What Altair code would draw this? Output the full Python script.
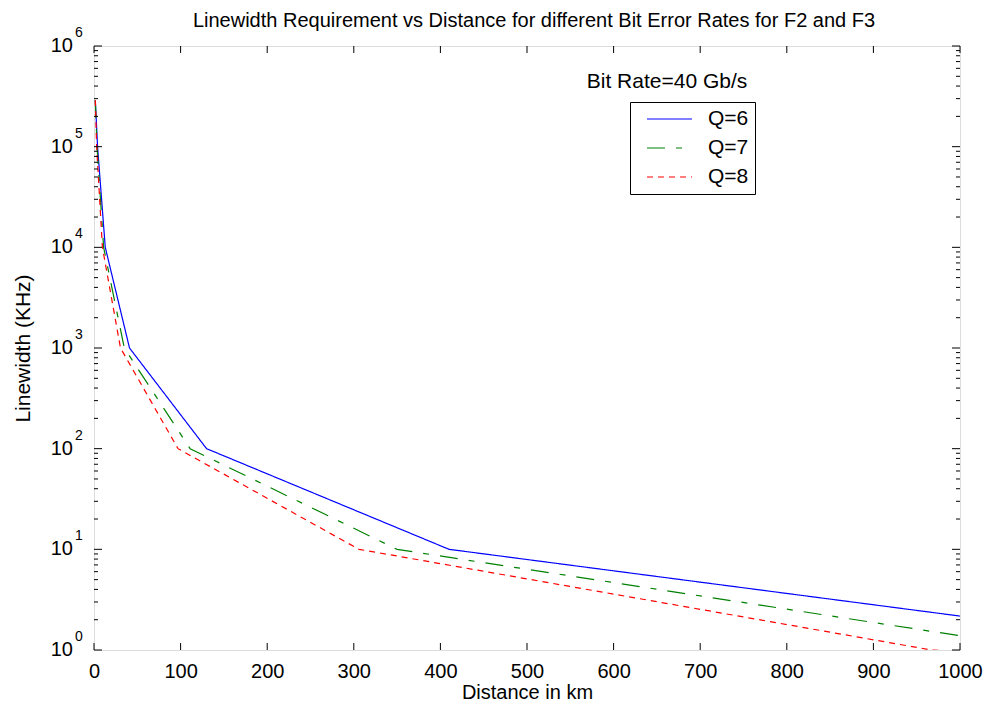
import altair as alt
import pandas as pd

# ---- data ----
q_labels = ["Q=6", "Q=7", "Q=8"]
dist_q6 = [1.5, 4.1, 13.0, 41.0, 130.0, 410.0, 1300.0]
lw_q6 = [2.9e5, 1e5, 1e4, 1e3, 1e2, 1e1, 1.0]
dist_q7 = [1.5, 3.5, 11.1, 35.0, 111.0, 350.0, 1107.0]
lw_q7 = [2.9e5, 1e5, 1e4, 1e3, 1e2, 1e1, 1.0]
dist_q8 = [1.5, 3.06, 9.7, 30.6, 97.0, 306.0, 967.0, 3058.0]
lw_q8 = [2.9e5, 1e5, 1e4, 1e3, 1e2, 1e1, 1.0, 0.1]

x_ticks = [0, 100, 200, 300, 400, 500, 600, 700, 800, 900, 1000]
y_ticks = [1, 10, 100, 1000, 10000, 100000, 1000000]
y_exps = ["0", "1", "2", "3", "4", "5", "6"]
y_minor = [m * 10 ** k for k in range(6) for m in range(2, 10)]

title_text = "Linewidth Requirement vs Distance for different Bit Error Rates for F2 and F3"
note_text = "Bit Rate=40 Gb/s"

rows = []
for lab, ds, ls in zip(q_labels, [dist_q6, dist_q7, dist_q8], [lw_q6, lw_q7, lw_q8]):
    for i, (d, l) in enumerate(zip(ds, ls)):
        rows.append({"d": d, "lw": l, "Q": lab, "i": i})
df = pd.DataFrame(rows)
df_xt = pd.DataFrame({"x": x_ticks})
df_yt = pd.DataFrame({"v": y_ticks, "e": y_exps, "base": ["10"] * len(y_ticks)})
df_ym = pd.DataFrame({"v": y_minor})

FONT = "Liberation Sans"
W, H = 866, 604

xs = alt.Scale(domain=[0, 1000], nice=False, zero=False)
ys = alt.Scale(type="log", domain=[1, 1e6], nice=False)

legend = alt.Legend(
    title=None, orient="none", legendX=536, legendY=56,
    strokeColor="black", fillColor="white", padding=6,
    symbolType="stroke", symbolSize=2025, symbolStrokeWidth=1.2,
    symbolOffset=10, clipHeight=22, rowPadding=7,
    labelFont=FONT, labelFontSize=21, labelColor="black", labelOffset=15,
)

lines = alt.Chart(df).mark_line(clip=True, strokeWidth=1.2).encode(
    x=alt.X("d:Q", scale=xs, axis=alt.Axis(
        values=x_ticks, format="d", ticks=False, domain=False, grid=False,
        labelFont=FONT, labelFontSize=20, labelColor="black", labelPadding=11,
        labelFlush=False, labelOverlap=False,
        title="Distance in km", titleFont=FONT, titleFontSize=20,
        titleFontWeight="normal", titleColor="black", titlePadding=1)),
    y=alt.Y("lw:Q", scale=ys, axis=alt.Axis(
        labels=False, ticks=False, domain=False, grid=False,
        title="Linewidth (KHz)", titleFont=FONT, titleFontSize=21,
        titleFontWeight="normal", titleColor="black", titlePadding=61)),
    color=alt.Color("Q:N", scale=alt.Scale(domain=q_labels, range=["#0000ff", "#008000", "#ff0000"]), legend=legend),
    strokeDash=alt.StrokeDash("Q:N", scale=alt.Scale(domain=q_labels, range=[[1, 0], [18, 11, 6, 11], [6, 5]]), legend=legend),
    order="i:Q",
)

tick_x_bot = alt.Chart(df_xt).mark_rule(color="black", strokeWidth=1).encode(
    x=alt.X("x:Q", scale=xs), y=alt.value(H), y2=alt.value(H - 7))
tick_x_top = alt.Chart(df_xt).mark_rule(color="black", strokeWidth=1).encode(
    x=alt.X("x:Q", scale=xs), y=alt.value(0), y2=alt.value(7))
tick_y_left = alt.Chart(df_yt).mark_rule(color="black", strokeWidth=1).encode(
    y=alt.Y("v:Q", scale=ys), x=alt.value(0), x2=alt.value(8))
tick_y_right = alt.Chart(df_yt).mark_rule(color="black", strokeWidth=1).encode(
    y=alt.Y("v:Q", scale=ys), x=alt.value(W), x2=alt.value(W - 8))
minor_left = alt.Chart(df_ym).mark_rule(color="black", strokeWidth=1).encode(
    y=alt.Y("v:Q", scale=ys), x=alt.value(0), x2=alt.value(4))
minor_right = alt.Chart(df_ym).mark_rule(color="black", strokeWidth=1).encode(
    y=alt.Y("v:Q", scale=ys), x=alt.value(W), x2=alt.value(W - 4))

ylab_base = alt.Chart(df_yt).mark_text(
    font=FONT, fontSize=20, color="black", align="right", baseline="middle").encode(
    y=alt.Y("v:Q", scale=ys), x=alt.value(-21), text="base:N")
ylab_exp = alt.Chart(df_yt).mark_text(
    font=FONT, fontSize=14, color="black", align="center", baseline="middle", dy=-13).encode(
    y=alt.Y("v:Q", scale=ys), x=alt.value(-15), text="e:N")

note = alt.Chart(pd.DataFrame({"t": [note_text]})).mark_text(
    font=FONT, fontSize=21, color="black", align="center", baseline="middle").encode(
    x=alt.value(573), y=alt.value(36), text="t:N")

title = alt.Chart(pd.DataFrame({"t": [title_text]})).mark_text(
    font=FONT, fontSize=20, color="black", align="center", baseline="alphabetic").encode(
    x=alt.value(440), y=alt.value(-19), text="t:N")

chart = alt.layer(
    lines, tick_x_bot, tick_x_top, tick_y_left, tick_y_right, minor_left, minor_right,
    ylab_base, ylab_exp, note, title,
).properties(
    width=W, height=H,
    autosize=alt.AutoSizeParams(type="none"),
    padding={"left": 86, "top": 38, "right": 23, "bottom": 58},
).configure_view(stroke="black", strokeWidth=1.5).configure(background="white")

chart.save("out.html", embed_options={"renderer": "svg", "actions": False})
